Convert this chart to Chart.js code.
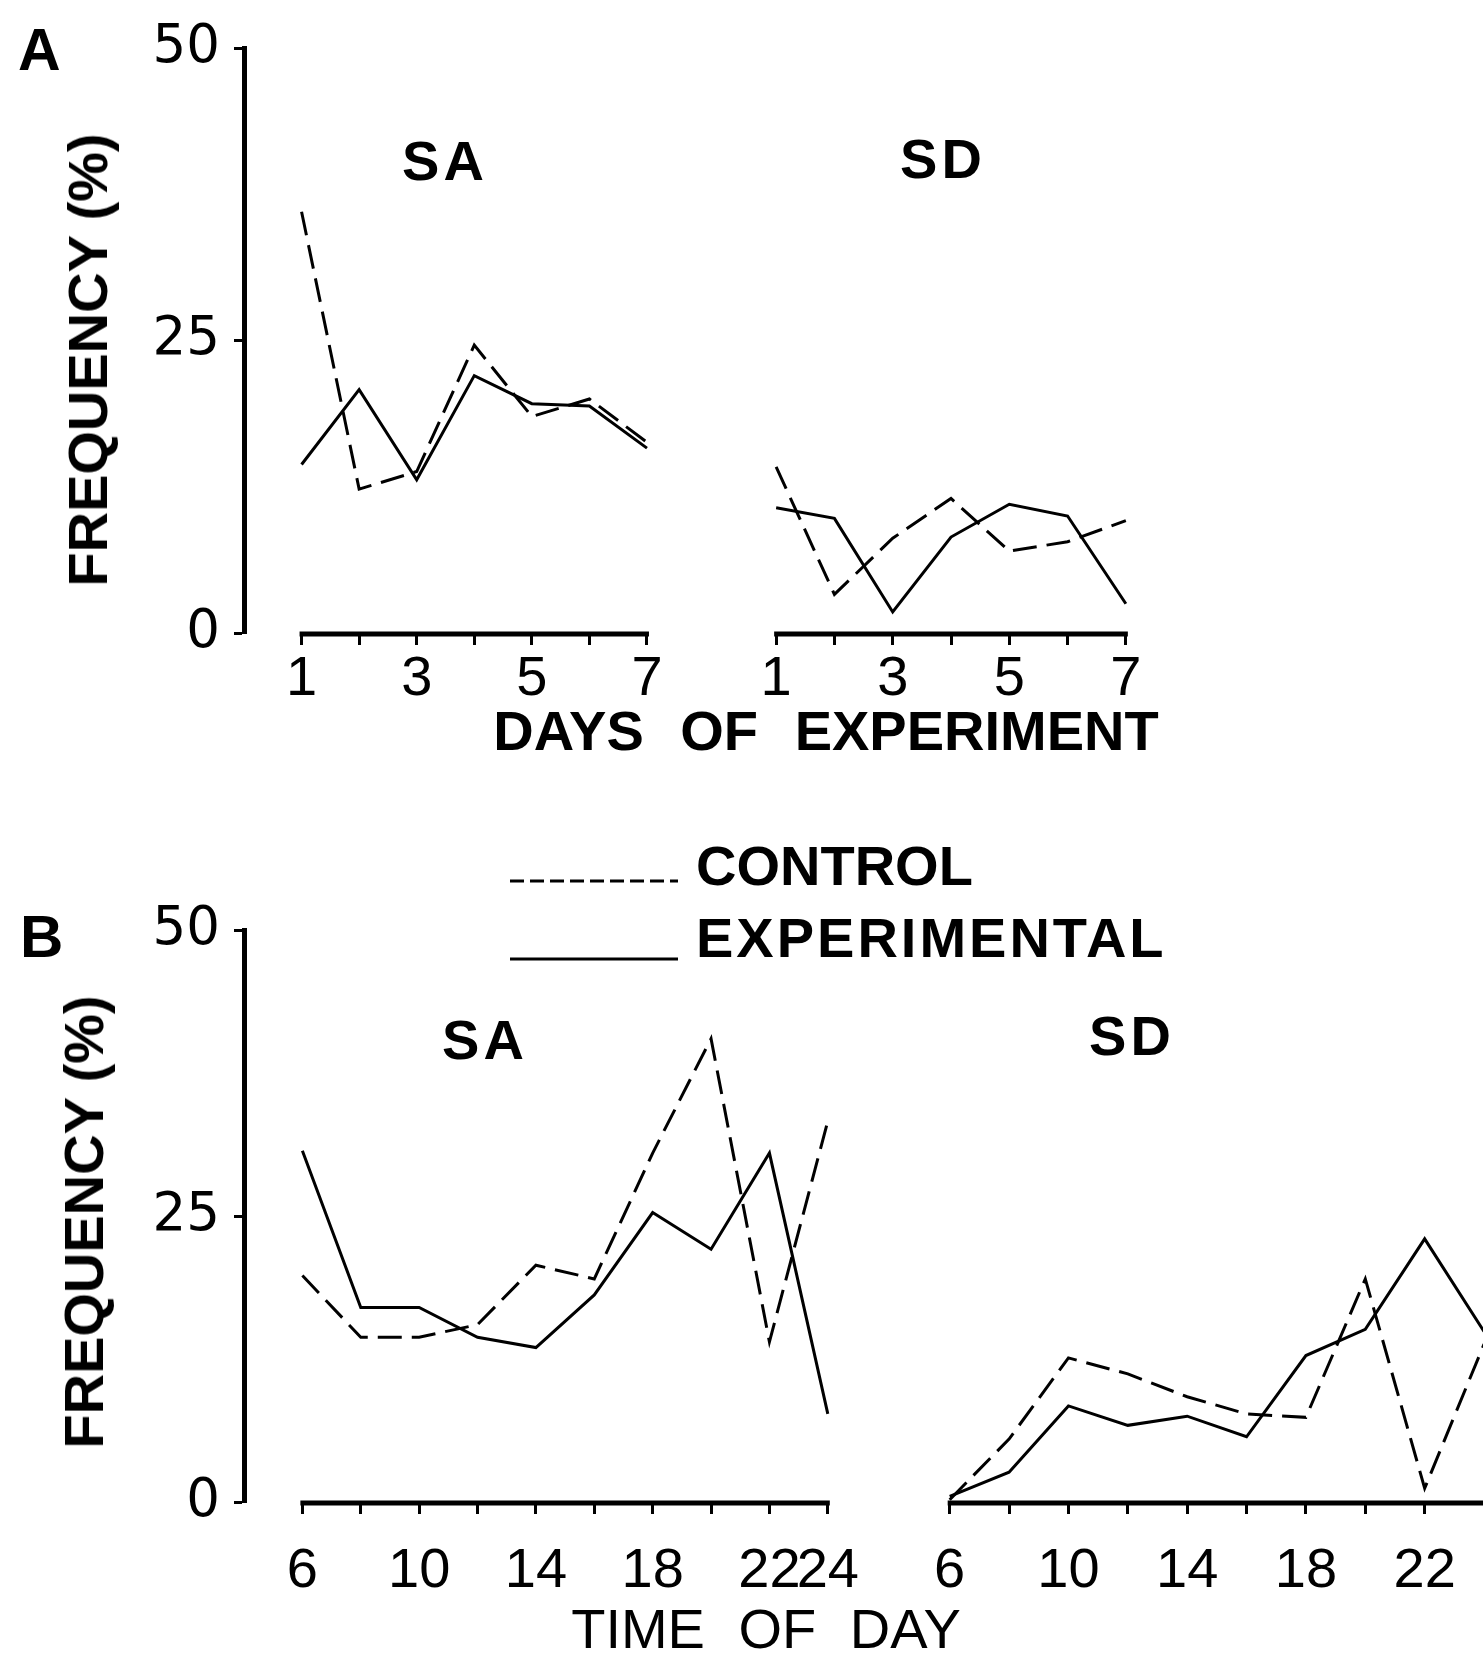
<!DOCTYPE html>
<html>
<head>
<meta charset="utf-8">
<title>Frequency of SA and SD: days of experiment and time of day</title>
<script src="https://cdn.jsdelivr.net/npm/chart.js@4.4.1/dist/chart.umd.min.js"></script>
<style>
    html, body { margin: 0; padding: 0; background: #fff; overflow: hidden; }
    #figure { position: relative; width: 1483px; height: 1661px; overflow: hidden;
              font-family: 'Liberation Sans', Arial, sans-serif; color: #000; }
    #figure canvas { position: absolute; }
    .txt { position: absolute; font-size: 56px; line-height: 1; white-space: nowrap; }
    .bold { font-weight: bold; }
    .mid { width: 1000px; margin-left: -500px; text-align: center; }
    .ytitle { transform: translate(-50%, -50%) rotate(-90deg); font-weight: bold; }
    #legend { position: absolute; left: 500px; top: 860px; }
</style>
</head>
<body>
<div id="figure">
    <canvas id="a-sa" width="700" height="713" style="left:0;top:0"></canvas>
    <canvas id="a-sd" width="485" height="713" style="left:700px;top:0"></canvas>
    <canvas id="b-sa" width="897" height="732" style="left:0;top:880px"></canvas>
    <canvas id="b-sd" width="632" height="732" style="left:880px;top:880px"></canvas>

    <div class="txt bold" style="left:18px;top:21px;font-size:59px">A</div>
    <div class="txt bold" style="left:20px;top:907px;font-size:60px">B</div>

    <div class="txt ytitle" style="left:88px;top:360px">FREQUENCY (%)</div>
    <div class="txt ytitle" style="left:84px;top:1222px">FREQUENCY (%)</div>

    <div class="txt bold mid" style="left:445px;top:133px;letter-spacing:4px">SA</div>
    <div class="txt bold mid" style="left:943px;top:131px;letter-spacing:4px">SD</div>
    <div class="txt bold mid" style="left:485px;top:1012px;letter-spacing:4px">SA</div>
    <div class="txt bold mid" style="left:1132px;top:1008px;letter-spacing:4px">SD</div>

    <div class="txt bold mid" style="left:826px;top:703px;word-spacing:21px">DAYS OF EXPERIMENT</div>
    <div class="txt mid" style="left:766px;top:1601px;word-spacing:18px">TIME OF DAY</div>

    <svg id="legend" width="190" height="110">
        <line x1="10" y1="21" x2="178" y2="21" stroke="#000" stroke-width="3" stroke-dasharray="14 6"></line>
        <line x1="10" y1="99" x2="178" y2="99" stroke="#000" stroke-width="3"></line>
    </svg>
    <div class="txt bold" style="left:696px;top:838px">CONTROL</div>
    <div class="txt bold" style="left:696px;top:910px;letter-spacing:3px">EXPERIMENTAL</div>
</div>

<script>
// x positions and tick labels
const DAYS = [1, 2, 3, 4, 5, 6, 7];
const DAY_LABELS = ['1', '', '3', '', '5', '', '7'];
const HOURS = [6, 8, 10, 12, 14, 16, 18, 20, 22, 24];
const HOUR_LABELS_SA = ['6', '', '10', '', '14', '', '18', '', '22', '24'];
const HOUR_LABELS_SD = ['6', '', '10', '', '14', '', '18', '', '22', ''];
const Y_TICKS = [0, 25, 50];

// A: days of experiment
const daySaControl = [36.0, 12.3, 13.8, 24.6, 18.5, 20.0, 16.3];
const daySaExperimental = [14.4, 20.8, 13.1, 22.0, 19.6, 19.4, 15.8];
const daySdControl = [14.2, 3.3, 8.1, 11.5, 7.0, 7.8, 9.6];
const daySdExperimental = [10.7, 9.8, 1.8, 8.2, 11.0, 10.0, 2.5];

// B: time of day
const hourSaControl = [19.8, 14.4, 14.4, 15.5, 20.7, 19.5, 30.5, 40.5, 14.0, 33.3];
const hourSaExperimental = [30.7, 17.0, 17.0, 14.4, 13.5, 18.1, 25.3, 22.1, 30.5, 7.7];
const hourSdControl = [0.2, 5.5, 12.6, 11.2, 9.2, 7.7, 7.4, 19.5, 1.2, 13.8];
const hourSdExperimental = [0.5, 2.6, 8.4, 6.7, 7.5, 5.7, 12.8, 15.1, 23.0, 14.9];

Chart.defaults.font.family = "'Liberation Sans', Arial, sans-serif";
Chart.defaults.color = '#000';

// x axis line only between the first and last tick, like the hand drawn axes
const axisLine = {
    id: 'axisLine',
    afterDraw(chart) {
        const scale = chart.scales.x;
        const ticks = scale.ticks;
        const ctx = chart.ctx;
        ctx.save();
        ctx.strokeStyle = '#000';
        ctx.lineWidth = 5;
        ctx.beginPath();
        ctx.moveTo(scale.getPixelForValue(ticks[0].value) - 2, scale.top + 1);
        ctx.lineTo(scale.getPixelForValue(ticks[ticks.length - 1].value) + 2, scale.top + 1);
        ctx.stroke();
        ctx.restore();
    }
};

function toPoints(xs, ys) {
    return xs.map((x, i) => ({ x: x, y: ys[i] }));
}

function drawPanel(id, cfg) {
    const ctx = document.getElementById(id);
    return new Chart(ctx, {
        type: 'line',
        data: {
            datasets: [
                {
                    label: 'CONTROL',
                    data: toPoints(cfg.xs, cfg.control),
                    borderColor: '#000',
                    borderWidth: 3,
                    borderDash: [24, 10],
                    pointRadius: 0,
                    tension: 0
                },
                {
                    label: 'EXPERIMENTAL',
                    data: toPoints(cfg.xs, cfg.experimental),
                    borderColor: '#000',
                    borderWidth: 3,
                    pointRadius: 0,
                    tension: 0
                }
            ]
        },
        options: {
            responsive: false,
            animation: false,
            devicePixelRatio: 1,
            layout: { padding: cfg.padding },
            plugins: {
                legend: { display: false },
                tooltip: { enabled: false }
            },
            scales: {
                x: {
                    type: 'linear',
                    min: cfg.xMin,
                    max: cfg.xMax,
                    afterBuildTicks: scale => { scale.ticks = cfg.xs.map(v => ({ value: v })); },
                    afterFit: scale => { scale.height = cfg.xHeight; },
                    border: { display: false },
                    grid: { drawOnChartArea: false, tickLength: 12, tickWidth: 3, color: '#000' },
                    ticks: {
                        autoSkip: false,
                        maxRotation: 0,
                        padding: cfg.labelPad,
                        font: { size: 56 },
                        callback: (value, index) => cfg.labels[index]
                    }
                },
                y: {
                    display: cfg.showY,
                    min: 0,
                    max: 50,
                    afterBuildTicks: scale => { scale.ticks = Y_TICKS.map(v => ({ value: v })); },
                    // only the visible left axis gets a fixed width
                    afterFit: scale => { if (cfg.showY) scale.width = 244; },
                    border: { display: true, width: 5, color: '#000' },
                    grid: { drawOnChartArea: false, tickLength: 10, tickWidth: 3, color: '#000' },
                    ticks: { padding: 14, font: { family: "'DejaVu Sans', sans-serif", size: 53 } }
                }
            }
        },
        plugins: [axisLine]
    });
}

document.addEventListener('DOMContentLoaded', function() {
    drawPanel('a-sa', {
        xs: DAYS, labels: DAY_LABELS, control: daySaControl, experimental: daySaExperimental,
        xMin: 0, xMax: 7.4, showY: true, xHeight: 80, labelPad: 1,
        padding: { top: 48, right: 30, bottom: 0, left: 0 }
    });
    drawPanel('a-sd', {
        xs: DAYS, labels: DAY_LABELS, control: daySdControl, experimental: daySdExperimental,
        xMin: 0.5, xMax: 7.5, showY: false, xHeight: 80, labelPad: 1,
        padding: { top: 48, right: 30, bottom: 0, left: 47 }
    });
    drawPanel('b-sa', {
        xs: HOURS, labels: HOUR_LABELS_SA, control: hourSaControl, experimental: hourSaExperimental,
        xMin: 4, xMax: 25, showY: true, xHeight: 110, labelPad: 24,
        padding: { top: 50, right: 40, bottom: 0, left: 0 }
    });
    drawPanel('b-sd', {
        xs: HOURS, labels: HOUR_LABELS_SD, control: hourSdControl, experimental: hourSdExperimental,
        xMin: 5, xMax: 24.1, showY: false, xHeight: 110, labelPad: 24,
        padding: { top: 50, right: 25, bottom: 0, left: 40 }
    });
});
</script>
</body>
</html>
